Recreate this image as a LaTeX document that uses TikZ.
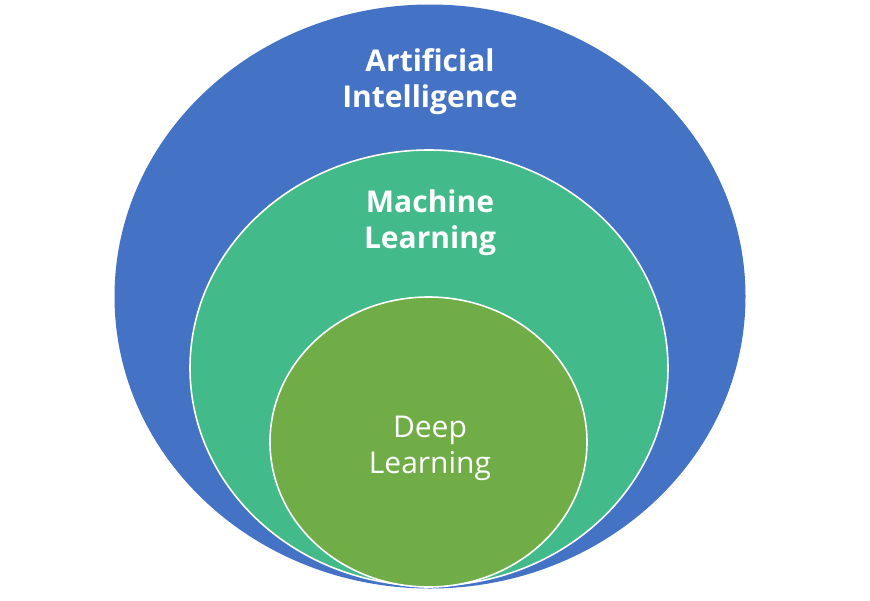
\documentclass[tikz,border=0pt]{standalone}
\usepackage{fontspec}
\setmainfont{Open Sans}[Ligatures=NoCommon]
\usetikzlibrary{shapes.geometric}
\definecolor{aiblue}{HTML}{4472C4}
\definecolor{mlgreen}{HTML}{42BA8A}
\definecolor{dlgreen}{HTML}{70AD47}
\tikzset{
  field/.style={ellipse,inner sep=0pt,draw=white,line width=1.6pt},
  fieldlabel/.style={text=white,align=center,font=\fontsize{30}{36}\selectfont}
}
\begin{document}
\begin{tikzpicture}[x=1pt,y=-1pt]
  \useasboundingbox (0,0) rectangle (870,600);
  \node[field,draw=none,fill=aiblue,minimum width=631pt,minimum height=584pt] at (430,296.5) (ai) {};
  \node[field,fill=mlgreen,minimum width=478pt,minimum height=436pt] at (429,368) (ml) {};
  \node[field,fill=dlgreen,minimum width=317pt,minimum height=290pt] at (428.5,442) (dl) {};
    \node[fieldlabel,font=\fontsize{30}{36}\selectfont\bfseries] at (430,82) (ailabel) {Artificial\\Intelligence};
    \node[fieldlabel,font=\fontsize{30}{36}\selectfont\bfseries] at (430,222.5) (mllabel) {Machine\\Learning};
    \node[fieldlabel] at (430,448) (dllabel) {Deep\\Learning};
\end{tikzpicture}
\end{document}
